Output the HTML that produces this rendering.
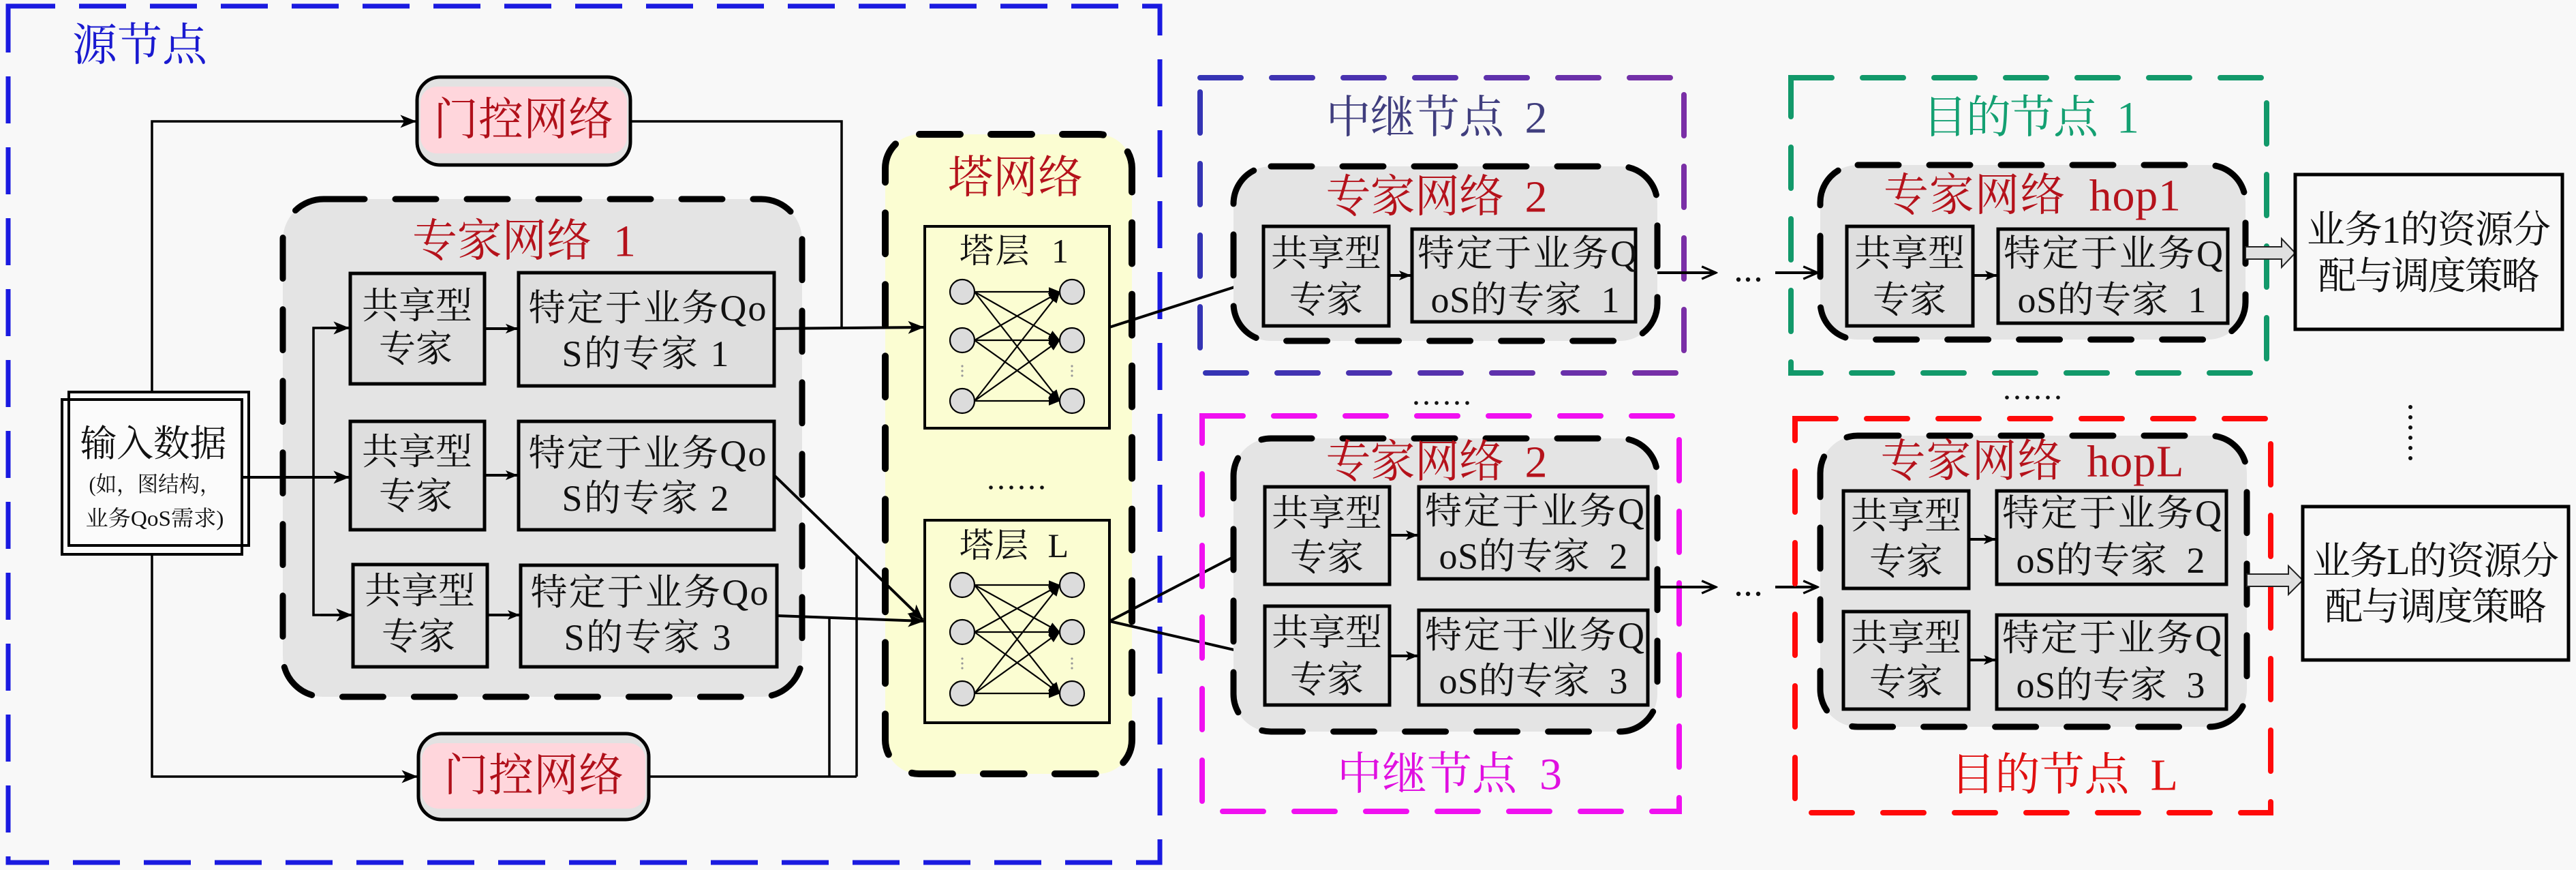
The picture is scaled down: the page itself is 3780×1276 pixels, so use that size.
<!DOCTYPE html>
<html><head><meta charset="utf-8">
<style>
html,body{margin:0;padding:0;background:#f8f8f8;}
svg{display:block;}
text{font-family:"Liberation Serif","Noto Serif CJK SC",serif;white-space:pre;}
.c{text-anchor:middle;dominant-baseline:central;}
.bx{font-size:54px;fill:#111;}
.lab{font-size:66px;fill:#b5121b;}
</style></head>
<body>
<svg width="3780" height="1276" viewBox="0 0 3780 1276" xmlns="http://www.w3.org/2000/svg">
<defs>
<marker id="a" viewBox="0 0 20 16" refX="19" refY="8" markerWidth="24" markerHeight="19" markerUnits="userSpaceOnUse" orient="auto">
<path d="M0,0 L20,8 L0,16 L5,8 z" fill="#000"/></marker>
<marker id="s" viewBox="0 0 20 16" refX="19" refY="8" markerWidth="18" markerHeight="15" markerUnits="userSpaceOnUse" orient="auto">
<path d="M0,0 L20,8 L0,16 L5,8 z" fill="#000"/></marker>
<marker id="o" viewBox="0 0 20 16" refX="18" refY="8" markerWidth="26" markerHeight="21" markerUnits="userSpaceOnUse" orient="auto">
<path d="M2,1 L18,8 L2,15" fill="none" stroke="#000" stroke-width="2.5"/></marker>
<marker id="n" viewBox="0 0 20 16" refX="19" refY="8" markerWidth="17" markerHeight="14" markerUnits="userSpaceOnUse" orient="auto">
<path d="M0,0 L20,8 L0,16 z" fill="#000"/></marker>
<linearGradient id="pg" gradientUnits="userSpaceOnUse" x1="1761" y1="0" x2="2471" y2="0">
<stop offset="0" stop-color="#3434b4"/><stop offset="1" stop-color="#7a2fa6"/></linearGradient>
</defs>
<rect width="3780" height="1276" fill="#f8f8f8"/>

<!-- ===== Source node ===== -->
<rect x="12" y="9" width="1690" height="1256" fill="none" stroke="#1a1ae0" stroke-width="7" stroke-dasharray="69 35"/>
<text x="205" y="67" class="c" font-size="66" fill="#1a1ad0">源节点</text>

<!-- gate lines -->
<g fill="none" stroke="#000" stroke-width="3.5">
<polyline points="223,575 223,178 610,178" marker-end="url(#a)"/>
<polyline points="925,178 1235,178 1235,481"/>
<polyline points="223,813 223,1139 612,1139" marker-end="url(#a)"/>
<polyline points="952,1139 1257,1139"/>
<line x1="1217" y1="907" x2="1217" y2="1139"/>
<line x1="1257" y1="815" x2="1257" y2="1139"/>
</g>

<!-- gate top -->
<rect x="612" y="113" width="313" height="129" rx="34" fill="#e2e2e2" stroke="#000" stroke-width="5"/>
<rect x="617" y="127" width="303" height="98" rx="24" fill="#ffd6dc"/>
<text x="768" y="176" class="c" font-size="66" fill="#b0101a">门控网络</text>
<!-- gate bottom -->
<rect x="614" y="1076" width="338" height="126" rx="34" fill="#e2e2e2" stroke="#000" stroke-width="5"/>
<rect x="619" y="1090" width="328" height="96" rx="24" fill="#ffd6dc"/>
<text x="783" y="1138" class="c" font-size="66" fill="#b0101a">门控网络</text>

<!-- expert net 1 -->
<rect x="415" y="292" width="762" height="730" rx="60" fill="#e4e4e4" stroke="#000" stroke-width="9" stroke-dasharray="60 45" stroke-linecap="round"/>
<text x="769" y="354" class="c lab" textLength="328" lengthAdjust="spacing">专家网络  1</text>

<!-- input data box -->
<rect x="90" y="574" width="276" height="240" fill="#fbfbfb"/>
<rect x="101" y="575" width="264" height="225" fill="none" stroke="#000" stroke-width="4"/>
<rect x="91" y="586" width="264" height="227" fill="none" stroke="#000" stroke-width="4"/>
<text x="225" y="651" class="c" font-size="54" fill="#111" textLength="215" lengthAdjust="spacing">输入数据</text>
<text x="227" y="710" class="c" font-size="32" fill="#111" textLength="193" lengthAdjust="spacingAndGlyphs">(如，图结构，</text>
<text x="227" y="760" class="c" font-size="32" fill="#111" textLength="203" lengthAdjust="spacingAndGlyphs">业务QoS需求)</text>

<!-- input arrows -->
<g fill="none" stroke="#000" stroke-width="4">
<line x1="355" y1="700" x2="512" y2="700" marker-end="url(#a)"/>
<polyline points="512,481 460,481 460,902 516,902" stroke-width="3.5"/>
<line x1="470" y1="481" x2="512" y2="481" marker-end="url(#a)" stroke-width="3.5"/>
<line x1="470" y1="902" x2="516" y2="902" marker-end="url(#a)" stroke-width="3.5"/>
<line x1="711" y1="482" x2="759" y2="482" marker-end="url(#s)"/>
<line x1="711" y1="697" x2="759" y2="697" marker-end="url(#s)"/>
<line x1="715" y1="902" x2="762" y2="902" marker-end="url(#s)"/>
</g>

<!-- expert 1 boxes -->
<g fill="#dedede" stroke="#000" stroke-width="5">
<rect x="514" y="401" width="197" height="162"/>
<rect x="761" y="400" width="375" height="166"/>
<rect x="514" y="618" width="197" height="159"/>
<rect x="761" y="618" width="375" height="159"/>
<rect x="518" y="828" width="197" height="150"/>
<rect x="764" y="829" width="376" height="149"/>
</g>
<g class="bx">
<text x="612" y="449" class="c">共享型</text>
<text x="610" y="512" class="c">专家</text>
<text x="950" y="452" class="c" textLength="349" lengthAdjust="spacing">特定于业务Qo</text>
<text x="947" y="519" class="c" textLength="245" lengthAdjust="spacing">S的专家 1</text>
<text x="612" y="663" class="c">共享型</text>
<text x="610" y="728" class="c">专家</text>
<text x="950" y="665" class="c" textLength="349" lengthAdjust="spacing">特定于业务Qo</text>
<text x="947" y="731" class="c" textLength="245" lengthAdjust="spacing">S的专家 2</text>
<text x="616" y="867" class="c">共享型</text>
<text x="614" y="934" class="c">专家</text>
<text x="953" y="869" class="c" textLength="349" lengthAdjust="spacing">特定于业务Qo</text>
<text x="950" y="935" class="c" textLength="245" lengthAdjust="spacing">S的专家 3</text>
</g>

<!-- ===== Tower network ===== -->
<rect x="1299" y="197" width="362" height="938" rx="50" fill="#fbfdd2" stroke="#000" stroke-width="10" stroke-dasharray="60 45" stroke-linecap="round"/>
<text x="1490" y="261" class="c lab" font-size="64">塔网络</text>

<rect x="1357" y="332" width="271" height="296" fill="#fbfdd2" stroke="#000" stroke-width="4"/>
<text x="1488" y="368" class="c" font-size="50" fill="#111" textLength="160" lengthAdjust="spacing">塔层  1</text>
<rect x="1357" y="763" width="271" height="297" fill="#fbfdd2" stroke="#000" stroke-width="4"/>
<text x="1488" y="800" class="c" font-size="50" fill="#111" textLength="160" lengthAdjust="spacing">塔层  L</text>

<g stroke="#000" stroke-width="2.2" fill="none" marker-end="url(#n)">
<line x1="1430" y1="428" x2="1555" y2="428"/><line x1="1430" y1="428" x2="1555" y2="499"/><line x1="1430" y1="428" x2="1555" y2="588"/>
<line x1="1430" y1="499" x2="1555" y2="428"/><line x1="1430" y1="499" x2="1555" y2="499"/><line x1="1430" y1="499" x2="1555" y2="588"/>
<line x1="1430" y1="588" x2="1555" y2="428"/><line x1="1430" y1="588" x2="1555" y2="499"/><line x1="1430" y1="588" x2="1555" y2="588"/>
<line x1="1430" y1="858" x2="1555" y2="858"/><line x1="1430" y1="858" x2="1555" y2="927"/><line x1="1430" y1="858" x2="1555" y2="1017"/>
<line x1="1430" y1="927" x2="1555" y2="858"/><line x1="1430" y1="927" x2="1555" y2="927"/><line x1="1430" y1="927" x2="1555" y2="1017"/>
<line x1="1430" y1="1017" x2="1555" y2="858"/><line x1="1430" y1="1017" x2="1555" y2="927"/><line x1="1430" y1="1017" x2="1555" y2="1017"/>
</g>
<g fill="#dcdcdc" stroke="#000" stroke-width="2.2">
<circle cx="1412" cy="428" r="18"/><circle cx="1412" cy="499" r="18"/><circle cx="1412" cy="588" r="18"/>
<circle cx="1573" cy="428" r="18"/><circle cx="1573" cy="499" r="18"/><circle cx="1573" cy="588" r="18"/>
<circle cx="1412" cy="858" r="18"/><circle cx="1412" cy="927" r="18"/><circle cx="1412" cy="1017" r="18"/>
<circle cx="1573" cy="858" r="18"/><circle cx="1573" cy="927" r="18"/><circle cx="1573" cy="1017" r="18"/>
</g>
<g fill="#999">
<circle cx="1412" cy="537" r="1.6"/><circle cx="1412" cy="544" r="1.6"/><circle cx="1412" cy="551" r="1.6"/>
<circle cx="1573" cy="537" r="1.6"/><circle cx="1573" cy="544" r="1.6"/><circle cx="1573" cy="551" r="1.6"/>
<circle cx="1412" cy="966" r="1.6"/><circle cx="1412" cy="973" r="1.6"/><circle cx="1412" cy="980" r="1.6"/>
<circle cx="1573" cy="966" r="1.6"/><circle cx="1573" cy="973" r="1.6"/><circle cx="1573" cy="980" r="1.6"/>
</g>
<g fill="#111">
<circle cx="1454" cy="715" r="2.8"/><circle cx="1469" cy="715" r="2.8"/><circle cx="1484" cy="715" r="2.8"/>
<circle cx="1499" cy="715" r="2.8"/><circle cx="1514" cy="715" r="2.8"/><circle cx="1529" cy="715" r="2.8"/>
</g>

<!-- expert1 -> tower arrows -->
<g fill="none" stroke="#000" stroke-width="4">
<line x1="1136" y1="482" x2="1355" y2="480" marker-end="url(#a)"/>
<line x1="1136" y1="697" x2="1354" y2="909" marker-end="url(#a)"/>
<line x1="1140" y1="903" x2="1355" y2="911" marker-end="url(#a)"/>
<line x1="1628" y1="480" x2="1852" y2="408" marker-end="url(#a)"/>
<line x1="1628" y1="911" x2="1854" y2="794" marker-end="url(#a)"/>
<line x1="1628" y1="911" x2="1854" y2="963" marker-end="url(#a)"/>
</g>

<!-- ===== Relay node 2 ===== -->
<rect x="1761" y="114" width="710" height="433" fill="none" stroke="url(#pg)" stroke-width="8" stroke-dasharray="60 45" stroke-linecap="round"/>
<text x="2108" y="173" class="c" font-size="66" fill="#403e7e" textLength="325" lengthAdjust="spacing">中继节点  2</text>
<rect x="1810" y="244" width="622" height="256" rx="55" fill="#e4e4e4" stroke="#000" stroke-width="9" stroke-dasharray="60 45" stroke-linecap="round"/>
<text x="2108" y="289" class="c lab" textLength="325" lengthAdjust="spacing">专家网络  2</text>
<g fill="#dedede" stroke="#000" stroke-width="5">
<rect x="1854" y="332" width="184" height="146"/>
<rect x="2072" y="336" width="328" height="136"/>
</g>
<line x1="2038" y1="404" x2="2070" y2="404" stroke="#000" stroke-width="4" marker-end="url(#s)"/>
<g class="bx">
<text x="1946" y="372" class="c">共享型</text>
<text x="1946" y="440" class="c">专家</text>
<text x="2241" y="372" class="c" textLength="322" lengthAdjust="spacing">特定于业务Q</text>
<text x="2238" y="440" class="c" textLength="277" lengthAdjust="spacing">oS的专家  1</text>
</g>

<!-- dots between -->
<g fill="#111">
<circle cx="2078" cy="591" r="2.8"/><circle cx="2093" cy="591" r="2.8"/><circle cx="2108" cy="591" r="2.8"/>
<circle cx="2123" cy="591" r="2.8"/><circle cx="2138" cy="591" r="2.8"/><circle cx="2153" cy="591" r="2.8"/>
<circle cx="2945" cy="583" r="2.8"/><circle cx="2960" cy="583" r="2.8"/><circle cx="2975" cy="583" r="2.8"/>
<circle cx="2990" cy="583" r="2.8"/><circle cx="3005" cy="583" r="2.8"/><circle cx="3020" cy="583" r="2.8"/>
</g>

<!-- ===== Relay node 3 ===== -->
<rect x="1764" y="610" width="700" height="580" fill="none" stroke="#f010f0" stroke-width="8" stroke-dasharray="60 45" stroke-linecap="round"/>
<text x="2127" y="1136" class="c" font-size="66" fill="#e010e0" textLength="330" lengthAdjust="spacing">中继节点  3</text>
<rect x="1810" y="643" width="622" height="430" rx="55" fill="#e4e4e4" stroke="#000" stroke-width="9" stroke-dasharray="60 45" stroke-linecap="round"/>
<text x="2108" y="678" class="c lab" textLength="325" lengthAdjust="spacing">专家网络  2</text>
<g fill="#dedede" stroke="#000" stroke-width="5">
<rect x="1856" y="714" width="183" height="143"/>
<rect x="2082" y="714" width="336" height="135"/>
<rect x="1856" y="889" width="183" height="145"/>
<rect x="2082" y="895" width="336" height="139"/>
</g>
<g stroke="#000" stroke-width="4">
<line x1="2039" y1="785" x2="2080" y2="785" marker-end="url(#s)"/>
<line x1="2039" y1="962" x2="2080" y2="962" marker-end="url(#s)"/>
</g>
<g class="bx">
<text x="1947" y="753" class="c">共享型</text>
<text x="1947" y="818" class="c">专家</text>
<text x="2252" y="750" class="c" textLength="322" lengthAdjust="spacing">特定于业务Q</text>
<text x="2250" y="816" class="c" textLength="277" lengthAdjust="spacing">oS的专家  2</text>
<text x="1947" y="928" class="c">共享型</text>
<text x="1947" y="997" class="c">专家</text>
<text x="2252" y="932" class="c" textLength="322" lengthAdjust="spacing">特定于业务Q</text>
<text x="2250" y="999" class="c" textLength="277" lengthAdjust="spacing">oS的专家  3</text>
</g>

<!-- relay -> dest arrows -->
<g stroke="#000" stroke-width="4" fill="none">
<line x1="2432" y1="400" x2="2518" y2="400" marker-end="url(#o)"/>
<line x1="2605" y1="400" x2="2667" y2="400" marker-end="url(#o)"/>
<line x1="2432" y1="861" x2="2518" y2="861" marker-end="url(#o)"/>
<line x1="2605" y1="861" x2="2667" y2="861" marker-end="url(#o)"/>
</g>
<g fill="#111">
<circle cx="2551" cy="410" r="3.2"/><circle cx="2565" cy="410" r="3.2"/><circle cx="2580" cy="410" r="3.2"/>
<circle cx="2551" cy="871" r="3.2"/><circle cx="2565" cy="871" r="3.2"/><circle cx="2580" cy="871" r="3.2"/>
</g>

<!-- ===== Destination node 1 ===== -->
<rect x="2628" y="114" width="698" height="433" fill="none" stroke="#12996a" stroke-width="8" stroke-dasharray="60 45" stroke-linecap="round"/>
<text x="2980" y="173" class="c" font-size="66" fill="#14a072" textLength="318" lengthAdjust="spacing">目的节点  1</text>
<rect x="2671" y="242" width="624" height="256" rx="55" fill="#e4e4e4" stroke="#000" stroke-width="9" stroke-dasharray="60 45" stroke-linecap="round"/>
<text x="2982" y="287" class="c lab" textLength="436" lengthAdjust="spacing">专家网络  hop1</text>
<g fill="#dedede" stroke="#000" stroke-width="5">
<rect x="2710" y="332" width="185" height="146"/>
<rect x="2932" y="336" width="337" height="138"/>
</g>
<line x1="2895" y1="404" x2="2930" y2="404" stroke="#000" stroke-width="4" marker-end="url(#s)"/>
<g class="bx">
<text x="2802" y="372" class="c">共享型</text>
<text x="2802" y="440" class="c">专家</text>
<text x="3101" y="372" class="c" textLength="322" lengthAdjust="spacing">特定于业务Q</text>
<text x="3099" y="440" class="c" textLength="277" lengthAdjust="spacing">oS的专家  1</text>
</g>

<!-- ===== Destination node L ===== -->
<rect x="2634" y="614" width="698" height="578" fill="none" stroke="#ff0a0a" stroke-width="8" stroke-dasharray="60 45" stroke-linecap="round"/>
<text x="3029" y="1137" class="c" font-size="66" fill="#e01010" textLength="334" lengthAdjust="spacing">目的节点  L</text>
<rect x="2671" y="639" width="626" height="427" rx="55" fill="#e4e4e4" stroke="#000" stroke-width="9" stroke-dasharray="60 45" stroke-linecap="round"/>
<text x="2982" y="677" class="c lab" textLength="445" lengthAdjust="spacing">专家网络  hopL</text>
<g fill="#dedede" stroke="#000" stroke-width="5">
<rect x="2705" y="720" width="184" height="143"/>
<rect x="2930" y="720" width="337" height="137"/>
<rect x="2705" y="897" width="184" height="143"/>
<rect x="2930" y="902" width="337" height="138"/>
</g>
<g stroke="#000" stroke-width="4">
<line x1="2889" y1="791" x2="2928" y2="791" marker-end="url(#s)"/>
<line x1="2889" y1="968" x2="2928" y2="968" marker-end="url(#s)"/>
</g>
<g class="bx">
<text x="2797" y="757" class="c">共享型</text>
<text x="2797" y="824" class="c">专家</text>
<text x="3099" y="753" class="c" textLength="322" lengthAdjust="spacing">特定于业务Q</text>
<text x="3097" y="822" class="c" textLength="277" lengthAdjust="spacing">oS的专家  2</text>
<text x="2797" y="936" class="c">共享型</text>
<text x="2797" y="1001" class="c">专家</text>
<text x="3099" y="936" class="c" textLength="322" lengthAdjust="spacing">特定于业务Q</text>
<text x="3097" y="1005" class="c" textLength="277" lengthAdjust="spacing">oS的专家  3</text>
</g>

<!-- hollow arrows -->
<path d="M3295,362 L3348,362 L3348,350 L3368,371 L3348,392 L3348,380 L3295,380 Z" fill="#e0e0e0" stroke="#222" stroke-width="2"/>
<path d="M3297,842 L3358,842 L3358,830 L3379,851 L3358,872 L3358,860 L3297,860 Z" fill="#e0e0e0" stroke="#222" stroke-width="2"/>

<!-- output boxes -->
<rect x="3368" y="256" width="392" height="227" fill="#f8f8f8" stroke="#000" stroke-width="5"/>
<text x="3564" y="338" class="c" font-size="56" fill="#111" textLength="358" lengthAdjust="spacing">业务1的资源分</text>
<text x="3564" y="406" class="c" font-size="56" fill="#111" textLength="325" lengthAdjust="spacing">配与调度策略</text>
<rect x="3379" y="743" width="390" height="225" fill="#f8f8f8" stroke="#000" stroke-width="5"/>
<text x="3574" y="824" class="c" font-size="56" fill="#111" textLength="362" lengthAdjust="spacing">业务L的资源分</text>
<text x="3574" y="891" class="c" font-size="56" fill="#111" textLength="325" lengthAdjust="spacing">配与调度策略</text>

<!-- vertical dots -->
<g fill="#111">
<circle cx="3537" cy="597" r="3"/><circle cx="3537" cy="612" r="3"/><circle cx="3537" cy="627" r="3"/>
<circle cx="3537" cy="642" r="3"/><circle cx="3537" cy="657" r="3"/><circle cx="3537" cy="672" r="3"/>
</g>
</svg>
</body></html>
